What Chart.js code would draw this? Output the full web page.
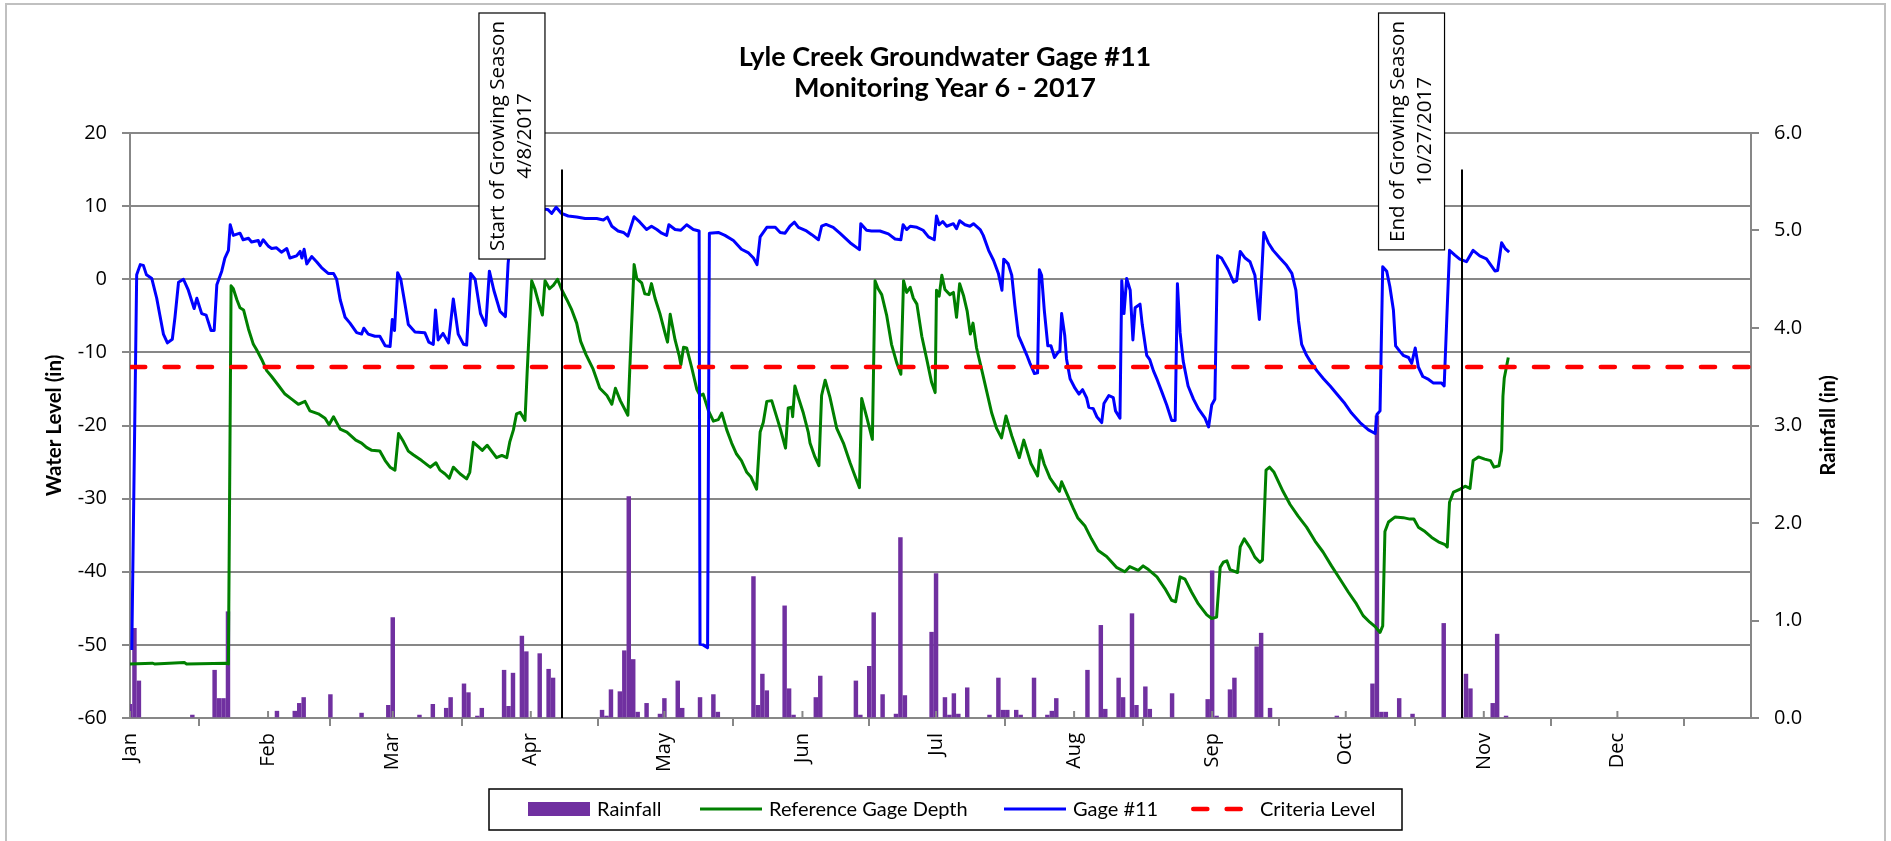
<!DOCTYPE html>
<html>
<head>
<meta charset="utf-8">
<script src="https://cdn.jsdelivr.net/npm/chart.js@4.4.1/dist/chart.umd.min.js"></script>
<style>
  html, body { margin: 0; padding: 0; background: #fff; }
  #wrap { position: relative; width: 1891px; height: 841px; }
</style>
</head>
<body>
<div id="wrap"><canvas id="chart" width="1891" height="841"></canvas></div>
<script>
// Month axis (day of year, 2017)
const months = ['Jan', 'Feb', 'Mar', 'Apr', 'May', 'Jun', 'Jul', 'Aug', 'Sep', 'Oct', 'Nov', 'Dec'];
const monthStart = [0, 31, 59, 90, 120, 151, 181, 212, 243, 273, 304, 334];
const yearEnd = 364;

const titleLines = ['Lyle Creek Groundwater Gage #11', 'Monitoring Year 6 - 2017'];
const criteriaLevel = -12;
const growStart = { day: 97, label: ['Start of Growing Season', '4/8/2017'] };
const growEnd = { day: 299, label: ['End of Growing Season', '10/27/2017'] };
const growLineTop = 15;

// Daily rainfall (in)
const rainDay = [0, 1, 2, 14, 19, 20, 21, 22, 33, 37, 38, 39, 45, 52, 58, 59, 65, 68, 71, 72, 75, 76, 78, 79,
  84, 85, 86, 88, 89, 92, 94, 95, 106, 107, 108, 110, 111, 112, 113, 114, 116, 119, 120, 123, 124, 128, 131, 132,
  140, 141, 142, 143, 147, 148, 149, 154, 155, 163, 164, 166, 167, 169, 172, 173, 174, 180, 181, 183, 184, 185,
  186, 188, 193, 195, 196, 197, 199, 200, 203, 206, 207, 208, 215, 218, 219, 222, 223, 225, 226, 228, 229, 234,
  242, 243, 244, 247, 248, 253, 254, 256, 271, 279, 280, 281, 282, 285, 288, 295, 300, 301, 306, 307, 309];
const rainIn = [0.14, 0.92, 0.38, 0.03, 0.49, 0.20, 0.20, 1.09, 0.07, 0.07, 0.15, 0.21, 0.24, 0.05, 0.13, 1.03,
  0.03, 0.14, 0.10, 0.21, 0.35, 0.26, 0.02, 0.10, 0.49, 0.12, 0.46, 0.84, 0.68, 0.66, 0.50, 0.41, 0.08, 0.02,
  0.29, 0.27, 0.69, 2.27, 0.60, 0.06, 0.15, 0.04, 0.20, 0.38, 0.10, 0.21, 0.24, 0.06, 1.45, 0.13, 0.45, 0.28,
  1.15, 0.30, 0.03, 0.21, 0.43, 0.38, 0.03, 0.53, 1.08, 0.24, 0.04, 1.85, 0.23, 0.88, 1.48, 0.21, 0.03, 0.25,
  0.04, 0.31, 0.03, 0.41, 0.08, 0.08, 0.08, 0.03, 0.41, 0.03, 0.07, 0.20, 0.49, 0.95, 0.09, 0.41, 0.21, 1.07,
  0.13, 0.32, 0.09, 0.25, 0.19, 1.51, 0.02, 0.29, 0.41, 0.73, 0.87, 0.10, 0.02, 0.35, 3.10, 0.06, 0.06, 0.20,
  0.04, 0.97, 0.45, 0.30, 0.15, 0.86, 0.02];

// Gage #11 water level (in) [day, level]
const gageSeries = [[0.4,-50.7],[1.5,0.6],[2.3,2.0],[3.0,1.9],[3.7,0.6],[4.9,0.1],[6.0,-2.6],[6.7,-4.9],[7.5,-7.5],
  [8.4,-8.7],[9.5,-8.2],[10.1,-5.2],[10.9,-0.4],[12.0,0.0],[13.1,-1.5],[14.4,-4.0],[15.0,-2.6],[16.1,-4.7],[17.1,-4.9],
  [18.2,-7.0],[18.9,-7.0],[19.5,-0.75],[20.6,1.1],[21.3,2.9],[22.1,3.95],[22.5,7.45],[23.2,6.0],[24.7,6.3],[25.4,5.4],
  [26.6,5.6],[27.3,5.1],[28.8,5.3],[29.2,4.6],[29.9,5.4],[31.1,4.5],[31.8,4.2],[32.9,4.3],[34.0,3.7],[35.2,4.2],
  [35.9,2.9],[37.4,3.2],[38.2,3.8],[38.6,2.9],[39.1,4.1],[39.7,2.1],[40.8,3.1],[41.9,2.4],[43.0,1.6],[44.5,0.8],
  [45.7,0.8],[46.4,0.0],[47.2,-2.8],[48.3,-5.2],[49.4,-6.0],[50.9,-7.3],[52.0,-7.5],[52.5,-6.7],[53.5,-7.5],[55.0,-7.8],
  [56.1,-7.8],[57.3,-9.1],[58.4,-9.2],[58.9,-5.5],[59.4,-7.0],[60.1,0.9],[60.8,0.0],[61.8,-3.6],[62.5,-6.2],[64.0,-7.2],
  [66.2,-7.3],[67.1,-8.6],[68.1,-8.9],[68.6,-4.2],[69.2,-8.3],[70.3,-7.4],[71.5,-8.7],[72.6,-2.7],[73.7,-7.5],[74.9,-8.9],
  [75.6,-9.0],[76.5,0.8],[77.5,0.0],[78.7,-4.7],[79.9,-6.3],[80.7,1.1],[81.7,-1.5],[83.1,-4.4],[84.3,-5.1],[84.9,2.1],
  [86.0,9.0],[92.8,9.6],[93.8,9.55],[94.7,9.0],[95.7,9.85],[96.9,9.0],[98.4,8.65],[100.3,8.5],[102.2,8.3],[104.8,8.3],
  [106.3,8.1],[107.2,8.5],[108.2,7.25],[109.6,6.6],[110.8,6.4],[111.8,5.9],[113.2,8.55],[114.5,7.8],[116.0,6.8],
  [117.1,7.25],[118.3,6.8],[119.4,6.3],[120.5,6.0],[121.0,7.45],[122.4,6.8],[123.7,6.7],[125.0,7.45],[126.5,6.8],
  [127.8,6.6],[128.0,-49.9],[128.7,-50.0],[129.7,-50.4],[130.1,6.3],[132.1,6.4],[133.6,6.0],[135.5,5.3],[137.3,4.1],
  [138.9,3.6],[140.0,2.9],[140.8,2.0],[141.5,5.8],[143.0,7.1],[144.9,7.1],[146.0,6.4],[147.1,6.3],[148.2,7.25],
  [149.2,7.8],[150.1,7.1],[151.9,6.6],[153.1,6.1],[154.6,5.4],[155.3,7.25],[156.3,7.5],[157.9,7.1],[159.4,6.3],
  [161.7,5.0],[163.8,4.05],[164.1,7.6],[165.4,6.7],[166.5,6.6],[168.4,6.6],[170.3,6.2],[171.8,5.5],[173.1,5.4],
  [173.6,7.45],[174.4,6.8],[175.2,7.25],[176.7,7.1],[178.1,6.7],[179.3,5.8],[180.6,5.4],[181.1,8.65],[181.7,7.45],
  [182.5,7.9],[183.4,7.25],[184.9,7.6],[185.6,6.9],[186.3,8.0],[187.5,7.45],[188.6,7.25],[189.4,7.6],[190.9,6.8],
  [191.6,6.0],[192.8,3.95],[193.9,2.6],[195.0,0.8],[195.8,-1.5],[196.2,2.75],[197.2,2.1],[198.0,0.55],[198.7,-3.6],
  [199.5,-7.7],[200.5,-9.1],[201.4,-10.4],[202.1,-11.5],[203.1,-12.9],[203.8,-12.8],[204.2,1.3],[204.7,0.55],
  [205.3,-4.2],[206.1,-9.1],[206.8,-9.1],[207.6,-10.7],[208.5,-9.9],[208.8,-9.9],[209.2,-4.7],[209.9,-7.7],
  [210.3,-10.9],[211.1,-13.6],[212.2,-14.9],[213.1,-15.7],[213.9,-15.1],[214.8,-16.2],[215.3,-17.5],[216.3,-17.7],
  [217.1,-18.8],[218.2,-19.6],[218.7,-17.0],[219.8,-15.9],[220.8,-16.2],[221.3,-18.0],[222.3,-19.0],[222.7,-0.2],
  [223.2,-4.7],[223.8,0.1],[224.6,-1.5],[225.2,-8.3],[225.7,-3.9],[226.8,-3.4],[227.3,-6.2],[228.3,-10.4],
  [229.0,-11.0],[229.8,-12.5],[230.7,-13.8],[231.7,-15.4],[232.8,-17.2],[233.9,-19.3],[234.7,-19.3],[235.2,-0.6],
  [235.8,-7.3],[236.5,-11.2],[237.6,-14.6],[238.8,-16.4],[239.9,-17.7],[241.4,-19.0],[242.2,-20.2],[242.9,-17.2],
  [243.6,-16.4],[244.2,3.2],[245.1,2.9],[246.6,1.3],[247.8,-0.4],[248.5,-0.2],[249.3,3.8],[250.4,2.9],[251.5,2.4],
  [252.6,0.55],[253.6,-5.5],[254.6,6.4],[255.6,5.0],[256.7,3.95],[258.2,2.9],[259.7,1.9],[260.9,0.8],[261.8,-1.5],
  [262.4,-5.7],[263.1,-8.9],[264.2,-10.4],[265.0,-11.2],[266.5,-12.5],[268.0,-13.6],[269.5,-14.6],[271.0,-15.7],
  [272.8,-17.0],[274.3,-18.3],[276.2,-19.6],[278.1,-20.6],[279.6,-21.1],[280.0,-18.5],[280.7,-18.0],[281.3,1.7],
  [282.2,1.1],[282.9,-1.0],[283.7,-4.2],[284.2,-9.1],[285.2,-9.9],[285.9,-10.4],[287.1,-10.7],[287.8,-11.5],
  [288.6,-9.4],[289.3,-12.0],[290.3,-13.3],[291.6,-13.7],[292.7,-14.2],[294.5,-14.2],[295.1,-14.6],[295.7,-5.2],
  [296.3,3.95],[297.5,3.3],[298.6,2.75],[300.1,2.4],[301.6,3.95],[303.1,3.2],[304.6,2.8],[306.5,1.14],[307.1,1.2],
  [308.0,5.0],[308.8,4.2],[309.7,3.7]];

// Reference gage depth (in) [day, level]
const refSeries = [[0,-52.6],[5.0,-52.5],[5.5,-52.6],[12.2,-52.4],[12.7,-52.6],[21.7,-52.5],[22.1,-52.6],[22.7,-0.9],
  [23.2,-1.3],[24.0,-2.8],[24.7,-3.9],[25.5,-4.2],[26.6,-6.8],[27.7,-8.9],[28.4,-9.6],[29.6,-11.0],[30.7,-12.5],
  [31.8,-13.3],[33.3,-14.5],[34.8,-15.7],[36.3,-16.4],[37.8,-17.1],[39.3,-16.7],[40.4,-18.0],[42.3,-18.4],[43.8,-19.0],
  [44.7,-19.9],[45.7,-18.8],[47.2,-20.5],[48.7,-20.9],[50.7,-22.0],[52.0,-22.4],[53.1,-23.0],[54.3,-23.4],[56.1,-23.5],
  [57.3,-24.8],[58.4,-25.7],[59.5,-26.1],[60.3,-21.1],[61.4,-22.2],[62.5,-23.5],[63.6,-24.0],[65.5,-24.8],[67.4,-25.7],
  [68.7,-25.1],[69.6,-26.1],[70.7,-26.6],[71.7,-27.2],[72.6,-25.7],[74.1,-26.6],[75.6,-27.3],[76.3,-26.4],[77.1,-22.3],
  [78.2,-22.9],[79.1,-23.4],[80.2,-22.7],[81.2,-23.5],[82.3,-24.4],[83.5,-24.1],[84.6,-24.4],[85.3,-22.2],[86.1,-20.6],
  [86.8,-18.4],[87.6,-18.2],[88.7,-19.3],[89.2,-12.5],[90.2,-0.2],[90.9,-1.3],[91.7,-3.1],[92.6,-4.9],[93.2,-0.2],
  [94.2,-1.3],[95.1,-0.8],[96.0,0.0],[97.0,-1.5],[98.1,-2.8],[99.2,-4.2],[100.3,-6.0],[101.2,-8.5],[102.4,-10.3],
  [104.0,-12.3],[105.5,-14.9],[107.1,-15.9],[108.2,-17.1],[109.0,-14.9],[110.1,-16.6],[111.8,-18.6],[112.5,-8.3],
  [113.2,2.0],[113.8,0.1],[114.9,-0.5],[115.6,-2.0],[116.5,-2.1],[117.1,-0.6],[117.9,-2.6],[119.0,-4.7],[120.2,-7.5],
  [120.7,-8.6],[121.3,-4.8],[122.4,-8.3],[123.3,-10.4],[123.7,-11.7],[124.3,-9.3],[125.0,-9.4],[126.1,-12.0],
  [127.3,-15.1],[128.0,-15.9],[128.7,-15.7],[129.9,-18.0],[131.0,-19.4],[132.1,-19.2],[132.9,-18.3],[134.0,-20.6],
  [135.1,-22.4],[136.2,-23.9],[137.3,-24.8],[138.5,-26.4],[139.4,-27.0],[140.7,-28.7],[141.5,-20.9],[142.2,-19.6],
  [143.0,-16.7],[144.1,-16.6],[144.8,-18.0],[146.0,-20.4],[147.2,-23.1],[147.8,-17.6],[148.6,-17.5],[148.8,-18.8],
  [149.3,-14.6],[150.1,-16.2],[151.2,-18.3],[152.3,-20.9],[152.7,-22.4],[153.8,-24.3],[154.7,-25.5],[155.3,-15.9],
  [156.1,-13.8],[157.2,-16.2],[158.7,-20.4],[160.2,-22.4],[161.7,-25.1],[162.8,-26.9],[163.8,-28.5],[164.3,-16.3],
  [165.4,-18.8],[166.7,-21.9],[167.3,-0.2],[168.0,-1.3],[168.8,-2.1],[169.9,-4.9],[171.0,-8.9],[172.2,-11.5],
  [173.1,-13.0],[173.7,-0.2],[174.4,-1.8],[175.2,-1.1],[175.9,-2.6],[176.7,-3.4],[177.8,-7.8],[178.9,-10.9],
  [180.0,-14.1],[180.8,-15.5],[181.1,-1.5],[181.7,-2.3],[182.3,0.55],[183.0,-1.4],[184.1,-2.1],[184.9,-1.8],
  [185.6,-5.2],[186.3,-0.6],[187.2,-2.3],[188.0,-4.4],[188.7,-7.5],[189.3,-6.0],[190.1,-9.4],[191.3,-12.5],
  [192.4,-15.4],[193.5,-18.3],[194.6,-20.4],[195.7,-21.7],[196.7,-18.7],[198.0,-21.4],[199.7,-24.4],[200.7,-22.0],
  [202.3,-25.2],[203.8,-26.9],[204.4,-23.4],[205.3,-25.3],[206.6,-27.2],[208.1,-28.5],[208.7,-29.0],[209.2,-27.7],
  [210.3,-29.2],[211.8,-31.3],[212.8,-32.6],[214.4,-33.7],[215.9,-35.5],[217.4,-37.1],[219.3,-37.9],[221.5,-39.4],
  [223.4,-40.0],[224.5,-39.3],[226.4,-39.8],[227.5,-39.2],[228.7,-39.7],[230.6,-40.7],[232.4,-42.3],[233.9,-43.9],
  [234.8,-44.1],[235.8,-40.7],[236.9,-41.0],[238.4,-42.8],[239.9,-44.4],[241.8,-45.9],[242.9,-46.4],[244.0,-46.2],
  [244.8,-39.4],[245.5,-38.7],[246.3,-38.5],[247.0,-39.7],[248.7,-40.1],[249.3,-36.6],[250.2,-35.5],[251.5,-36.7],
  [252.6,-38.0],[253.7,-38.7],[254.3,-38.4],[255.1,-26.1],[255.9,-25.7],[256.9,-26.4],[257.9,-27.7],[258.9,-29.0],
  [260.5,-30.8],[262.3,-32.4],[264.2,-33.9],[266.1,-35.8],[267.9,-37.3],[269.8,-39.2],[271.7,-41.0],[273.6,-42.8],
  [275.4,-44.4],[276.9,-46.0],[278.4,-46.9],[279.6,-47.5],[280.7,-48.3],[281.3,-47.4],[281.8,-34.5],[282.6,-33.2],
  [284.1,-32.5],[285.9,-32.6],[287.4,-32.8],[288.3,-32.8],[289.3,-33.9],[290.8,-34.5],[292.3,-35.3],[293.8,-35.9],
  [295.3,-36.3],[295.8,-36.6],[296.3,-30.5],[297.2,-29.1],[298.7,-28.7],[299.8,-28.3],[300.9,-28.6],[301.6,-24.8],
  [302.8,-24.3],[304.2,-24.6],[305.5,-24.8],[306.3,-25.7],[307.4,-25.5],[308.0,-23.4],[308.3,-16.0],[308.6,-13.5],
  [309.5,-10.7]];

const GRID = '#878787';
const TICK_FONT = { family: 'Open Sans', size: 20 };

// custom drawing: title, axis titles, growing season markers, legend, frame
const decor = {
  id: 'decor',
  beforeDraw(chart) {
    const c = chart.ctx;
    c.save();
    c.fillStyle = '#fff';
    c.fillRect(0, 0, chart.width, chart.height);
    c.restore();
  },
  afterDatasetsDraw(chart) {
    const { ctx, scales: { x, y } } = chart;
    ctx.save();
    ctx.strokeStyle = '#000';
    ctx.lineWidth = 2;
    [growStart, growEnd].forEach(g => {
      const px = Math.round(x.getPixelForValue(g.day));
      ctx.beginPath();
      ctx.moveTo(px, y.getPixelForValue(-60));
      ctx.lineTo(px, y.getPixelForValue(growLineTop));
      ctx.stroke();
    });
    // inner half of the x tick marks
    ctx.strokeStyle = GRID;
    monthStart.forEach(d => {
      const px = x.getPixelForValue(d);
      ctx.beginPath();
      ctx.moveTo(px, chart.chartArea.bottom - 7);
      ctx.lineTo(px, chart.chartArea.bottom);
      ctx.stroke();
    });
    ctx.restore();
  },
  afterDraw(chart) {
    const { ctx, scales: { x }, chartArea } = chart;
    const midY = (chartArea.top + chartArea.bottom) / 2;
    ctx.save();

    // chart frame
    ctx.strokeStyle = '#c0c0c0';
    ctx.lineWidth = 2;
    ctx.strokeRect(6, 4, 1879, 860);

    // title
    ctx.fillStyle = '#000';
    ctx.textAlign = 'center';
    ctx.textBaseline = 'middle';
    ctx.font = 'bold 27px Lato';
    ctx.fillText(titleLines[0], 945, 57);
    ctx.fillText(titleLines[1], 945, 88);

    // axis titles
    ctx.font = 'bold 20.5px Lato';
    [[54, 'Water Level (in)'], [1828, 'Rainfall (in)']].forEach(([tx, t]) => {
      ctx.save();
      ctx.translate(tx, midY);
      ctx.rotate(-Math.PI / 2);
      ctx.fillText(t, 0, 0);
      ctx.restore();
    });

    // growing season text boxes
    ctx.font = '20.5px "Open Sans"';
    [growStart, growEnd].forEach(g => {
      const cx = x.getPixelForValue(g.day) - 50;
      const len = ctx.measureText(g.label[0]).width + 16;
      const top = 13, w = 66;
      ctx.fillStyle = '#fff';
      ctx.fillRect(cx - w / 2, top, w, len);
      ctx.strokeStyle = '#000';
      ctx.lineWidth = 1.2;
      ctx.strokeRect(cx - w / 2, top, w, len);
      ctx.fillStyle = '#000';
      ctx.save();
      ctx.translate(cx, top + len / 2);
      ctx.rotate(-Math.PI / 2);
      ctx.fillText(g.label[0], 0, -13.5);
      ctx.fillText(g.label[1], 0, 13.5);
      ctx.restore();
    });

    // legend
    const lg = { left: 489, top: 789, width: 913, height: 41 };
    ctx.strokeStyle = '#000';
    ctx.lineWidth = 1.5;
    ctx.strokeRect(lg.left, lg.top, lg.width, lg.height);
    const cy = lg.top + 20;
    const ds = chart.data.datasets;
    const byLabel = l => ds.find(d => d.label === l);
    const items = [['Rainfall', 528], ['Reference Gage Depth', 700], ['Gage #11', 1004], ['Criteria Level', 1191]];
    ctx.font = '20px Lato';
    ctx.textAlign = 'left';
    items.forEach(([label, sx]) => {
      const d = byLabel(label);
      if (d.type === 'bar') {
        ctx.fillStyle = d.backgroundColor;
        ctx.fillRect(sx, cy - 7, 62, 14);
      } else {
        ctx.save();
        ctx.strokeStyle = d.borderColor;
        ctx.lineWidth = d.borderWidth;
        if (d.borderDash) {
          ctx.setLineDash(d.borderDash);
          ctx.lineCap = 'round';
          ctx.beginPath();
          ctx.moveTo(sx + 2.3, cy);
          ctx.lineTo(sx + 59, cy);
        } else {
          ctx.beginPath();
          ctx.moveTo(sx, cy);
          ctx.lineTo(sx + 62, cy);
        }
        ctx.stroke();
        ctx.restore();
      }
      ctx.fillStyle = '#000';
      ctx.fillText(label, sx + 69, cy + 1);
    });
    ctx.restore();
  }
};

const ctx = document.getElementById('chart').getContext('2d');
new Chart(ctx, {
  type: 'line',
  data: {
    datasets: [
      {
        label: 'Criteria Level',
        data: [{ x: 0, y: criteriaLevel }, { x: yearEnd, y: criteriaLevel }],
        borderColor: '#ff0000',
        borderWidth: 4.6,
        borderDash: [14, 19.4],
        borderDashOffset: 32.2,
        borderCapStyle: 'round',
        pointRadius: 0,
        yAxisID: 'y'
      },
      {
        label: 'Gage #11',
        data: gageSeries.map(([d, v]) => ({ x: d, y: v })),
        borderColor: '#0000ff',
        borderWidth: 3,
        borderJoinStyle: 'round',
        pointRadius: 0,
        tension: 0,
        yAxisID: 'y'
      },
      {
        label: 'Reference Gage Depth',
        data: refSeries.map(([d, v]) => ({ x: d, y: v })),
        borderColor: '#008000',
        borderWidth: 3,
        borderJoinStyle: 'round',
        pointRadius: 0,
        tension: 0,
        yAxisID: 'y'
      },
      {
        label: 'Rainfall',
        type: 'bar',
        data: rainDay.map((d, i) => ({ x: d, y: rainIn[i] })),
        backgroundColor: '#7030a0',
        borderWidth: 0,
        barThickness: 3.8,
        yAxisID: 'y2'
      }
    ]
  },
  options: {
    responsive: false,
    animation: false,
    events: [],
    layout: { padding: { top: 133, left: 0, right: 0, bottom: 0 }, autoPadding: false },
    plugins: { legend: { display: false }, title: { display: false }, tooltip: { enabled: false } },
    scales: {
      x: {
        type: 'linear',
        min: 0,
        max: yearEnd,
        offset: false,
        afterBuildTicks: s => { s.ticks = monthStart.map(v => ({ value: v })); },
        afterFit: s => { s.height = 123; },
        ticks: {
          autoSkip: false,
          minRotation: 90,
          maxRotation: 90,
          padding: 7,
          color: '#000',
          font: TICK_FONT,
          callback: v => months[monthStart.indexOf(v)]
        },
        grid: { drawOnChartArea: false, color: GRID, lineWidth: 2, tickLength: 8 },
        border: { color: GRID, width: 2 }
      },
      y: {
        position: 'left',
        min: -60,
        max: 20,
        afterFit: s => { s.width = 130; },
        ticks: { stepSize: 10, padding: 15, color: '#000', font: TICK_FONT },
        grid: { color: GRID, lineWidth: 2, tickLength: 8 },
        border: { color: GRID, width: 2 }
      },
      y2: {
        position: 'right',
        min: 0,
        max: 6,
        afterFit: s => { s.width = 140; },
        ticks: { stepSize: 1, padding: 15, color: '#000', font: TICK_FONT, callback: v => v.toFixed(1) },
        grid: { drawOnChartArea: false, color: GRID, lineWidth: 2, tickLength: 8 },
        border: { color: GRID, width: 2 }
      }
    }
  },
  plugins: [decor]
});
</script>
</body>
</html>
